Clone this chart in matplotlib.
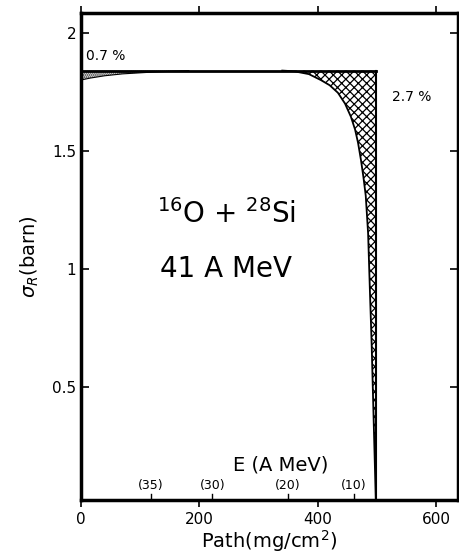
import matplotlib
matplotlib.use("Agg")
import matplotlib.pyplot as plt
import numpy as np

plt.rcParams['hatch.linewidth'] = 0.9

# flat top of the reaction cross section
sigma_top = 1.84
path_end = 498

# stippled region (0.7 %), lower edge
stip_path = [0, 15, 40, 70, 110, 150, 182]
stip_low = [1.800, 1.808, 1.818, 1.826, 1.832, 1.837, 1.840]

# cross-hatched region (2.7 %), lower edge
hatch_path = [340, 360, 385, 405, 420, 434, 446, 456, 463, 468, 473, 477, 481, 485, 488, 491, 493, 495, 496.5, 498]
hatch_low = [1.840, 1.837, 1.825, 1.800, 1.778, 1.746, 1.70, 1.644, 1.59, 1.534, 1.46, 1.39, 1.31, 1.15, 0.91, 0.68, 0.49, 0.30, 0.16, 0.02]

# energy markers along the path
e_path = [118, 222, 349, 461]
e_labels = ["(35)", "(30)", "(20)", "(10)"]

fig = plt.figure(figsize=(4.59, 5.55), dpi=100)
ax = fig.add_axes([0.1765, 0.099, 0.8215, 0.878])

ax.plot([0, path_end], [sigma_top, sigma_top], color='black', lw=2)
ax.plot([path_end, path_end], [0.02, sigma_top], color='black', lw=1.5)

ax.fill_between(stip_path, stip_low, sigma_top, facecolor='white', edgecolor='black', hatch='........', lw=0)
ax.plot(stip_path, stip_low, color='black', lw=0.8)

ax.fill_between(hatch_path, hatch_low, sigma_top, facecolor='white', edgecolor='black', hatch='xxxx', lw=0)
ax.plot(hatch_path, hatch_low, color='black', lw=1.3)

ax.set_xlim(0, 637)
ax.set_ylim(0.02, 2.085)

ax.set_xticks([0, 200, 400, 600])
ax.set_yticks([0.5, 1, 1.5, 2])
ax.set_yticklabels(["0.5", "1", "1.5", "2"])
ax.tick_params(axis='x', direction='out', length=5, width=1.2, labelsize=11, top=True)
ax.tick_params(axis='y', direction='in', length=6, width=1.2, labelsize=11, right=True)
for sp in ax.spines.values():
    sp.set_linewidth(2.5)

# energy scale inside the axes
for p, lab in zip(e_path, e_labels):
    ax.plot([p, p], [0.02, 0.045], color='black', lw=1)
    ax.text(p, 0.055, lab, ha='center', va='bottom', fontsize=9)
ax.text(338, 0.17, "E (A MeV)", ha='center', va='center', fontsize=14)

ax.text(42, 1.90, "0.7 %", ha='center', va='center', fontsize=10)
ax.text(559, 1.73, "2.7 %", ha='center', va='center', fontsize=10)
ax.text(245, 1.23, r"$^{16}$O + $^{28}$Si", ha='center', va='center', fontsize=20)
ax.text(245, 1.0, "41 A MeV", ha='center', va='center', fontsize=20)

ax.set_xlabel(r"Path(mg/cm$^2$)", fontsize=14, labelpad=1)
ax.set_ylabel(r"$\sigma_R$(barn)", fontsize=14, labelpad=8)

fig.savefig("out.png", dpi=100)
